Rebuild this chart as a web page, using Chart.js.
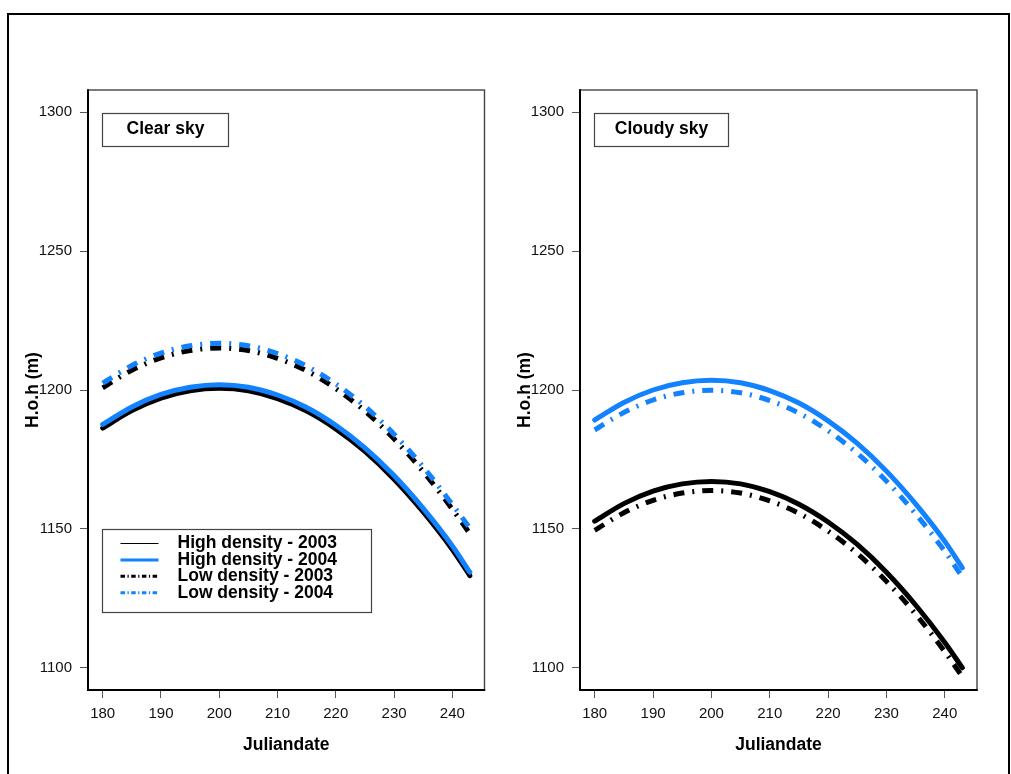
<!DOCTYPE html>
<html>
<head>
<meta charset="utf-8">
<script src="https://cdn.jsdelivr.net/npm/chart.js@4.4.1/dist/chart.umd.min.js"></script>
<style>
  body { margin: 0; background: #fff; }
  #wrap { position: relative; width: 1011px; height: 774px; overflow: hidden; }
  #wrap canvas { position: absolute; top: 0; }
  #frame { position: absolute; left: 7px; top: 13px; width: 999px; height: 800px; border: 2.5px solid #000; }
</style>
</head>
<body>
<div id="wrap">
  <canvas id="clearChart" width="505" height="774" style="left:0"></canvas>
  <canvas id="cloudyChart" width="506" height="774" style="left:505px"></canvas>
  <div id="frame"></div>
</div>
<script>
// Data (height in m vs. julian day)
const days = [180, 185, 190, 195, 200, 205, 210, 215, 220, 225, 230, 235, 240, 243];
const xTicks = [180, 190, 200, 210, 220, 230, 240];
const yTicks = [1100, 1150, 1200, 1250, 1300];
const seriesNames = ['High density - 2003', 'High density - 2004', 'Low density - 2003', 'Low density - 2004'];

const clearHigh2003 = [1186.3, 1192.6, 1197.1, 1199.7, 1200.6, 1199.7, 1196.9, 1192.4, 1186.0, 1177.9, 1167.9, 1156.1, 1142.6, 1133.2];
const clearHigh2004 = [1187.6, 1193.9, 1198.4, 1201.0, 1201.9, 1201.0, 1198.2, 1193.7, 1187.3, 1179.2, 1169.2, 1157.4, 1143.9, 1134.4];
const clearLow2003  = [1200.8, 1207.1, 1211.6, 1214.2, 1215.1, 1214.2, 1211.4, 1206.9, 1200.5, 1192.4, 1182.4, 1170.6, 1157.1, 1148.3];
const clearLow2004  = [1202.5, 1208.8, 1213.3, 1215.9, 1216.8, 1215.9, 1213.1, 1208.6, 1202.2, 1194.1, 1184.1, 1172.3, 1158.8, 1150.3];

const cloudyHigh2003 = [1152.8, 1159.1, 1163.6, 1166.2, 1167.1, 1166.2, 1163.4, 1158.9, 1152.5, 1144.4, 1134.4, 1122.6, 1109.1, 1100.0];
const cloudyHigh2004 = [1189.2, 1195.5, 1200.0, 1202.6, 1203.5, 1202.6, 1199.8, 1195.3, 1188.9, 1180.8, 1170.8, 1159.0, 1145.5, 1136.0];
const cloudyLow2003  = [1149.5, 1155.8, 1160.3, 1162.9, 1163.8, 1162.9, 1160.1, 1155.6, 1149.2, 1141.1, 1131.1, 1119.3, 1105.8, 1096.8];
const cloudyLow2004  = [1185.6, 1191.9, 1196.4, 1199.0, 1199.9, 1199.0, 1196.2, 1191.7, 1185.3, 1177.2, 1167.2, 1155.4, 1141.9, 1132.7];

// Styles
const BLUE = '#1282ff';
const colors = ['#000', BLUE, '#000', BLUE];
const plotDash = [[], [], [11, 8, 2, 8], [11, 8, 2, 8]];
const legendDash = [[], [], [4.5, 2.5, 1.2, 2.5], [4.5, 2.5, 1.2, 2.5]];
const legendWidth = [1.2, 3, 3, 3];
const FONT = "'Liberation Sans', Arial, sans-serif";

const panelDecor = {
    id: 'panelDecor',
    beforeDatasetsDraw(chart) {
        const { ctx, chartArea: a } = chart;
        ctx.save();
        ctx.strokeStyle = '#444';
        ctx.lineWidth = 1.4;
        ctx.strokeRect(a.left, a.top, a.right - a.left, a.bottom - a.top);
        ctx.strokeStyle = '#000';
        ctx.lineWidth = 2;
        ctx.beginPath();
        ctx.moveTo(a.left, a.top - 0.7);
        ctx.lineTo(a.left, a.bottom);
        ctx.lineTo(a.right + 0.7, a.bottom);
        ctx.stroke();
        ctx.restore();
    },
    afterDraw(chart, args, opts) {
        const { ctx, chartArea: a } = chart;
        ctx.save();
        ctx.fillStyle = '#000';
        ctx.font = 'bold 17.5px ' + FONT;

        // panel title box
        ctx.strokeStyle = '#444';
        ctx.lineWidth = 1.2;
        ctx.strokeRect(a.left + 14.5, a.top + 23.5, opts.titleWidth, 33);
        ctx.textAlign = 'center';
        ctx.textBaseline = 'middle';
        ctx.fillText(opts.title, a.left + 14.5 + opts.titleWidth / 2, a.top + 39);

        // axis titles
        ctx.fillText('Juliandate', (a.left + a.right) / 2, 745);
        ctx.save();
        ctx.translate(a.left - 55, (a.top + a.bottom) / 2);
        ctx.rotate(-Math.PI / 2);
        ctx.fillText('H.o.h (m)', 0, 0);
        ctx.restore();

        // legend
        if (opts.legend) {
            const lx = a.left + 14.5, ly = 529.5;
            ctx.strokeStyle = '#444';
            ctx.lineWidth = 1.2;
            ctx.strokeRect(lx, ly, 269, 83);
            ctx.textAlign = 'left';
            chart.data.datasets.forEach((ds, i) => {
                const y = 543.5 + i * 16.4;
                ctx.save();
                ctx.strokeStyle = ds.borderColor;
                ctx.lineWidth = legendWidth[i];
                ctx.setLineDash(legendDash[i]);
                ctx.lineCap = 'butt';
                ctx.beginPath();
                ctx.moveTo(lx + 18, y);
                ctx.lineTo(lx + 56, y);
                ctx.stroke();
                ctx.restore();
                ctx.fillText(ds.label, lx + 75, y);
            });
        }
        ctx.restore();
    }
};

function makePanel(id, series, title, titleWidth, showLegend, areaLeft, padRight) {
    const ctx = document.getElementById(id).getContext('2d');
    return new Chart(ctx, {
        type: 'line',
        data: {
            datasets: series.map((vals, i) => ({
                label: seriesNames[i],
                data: days.map((d, k) => ({ x: d, y: vals[k] })),
                borderColor: colors[i],
                borderWidth: 5,
                borderDash: plotDash[i],
                borderCapStyle: plotDash[i].length ? 'butt' : 'round',
                pointRadius: 0,
                cubicInterpolationMode: 'monotone',
                fill: false,
                order: 3 - i
            }))
        },
        options: {
            responsive: false,
            animation: false,
            devicePixelRatio: 1,
            layout: { padding: { left: 0, top: 90, right: padRight, bottom: 0 } },
            plugins: {
                legend: { display: false },
                tooltip: { enabled: false },
                panelDecor: { title: title, titleWidth: titleWidth, legend: showLegend }
            },
            scales: {
                x: {
                    type: 'linear',
                    min: 177.48,
                    max: 245.52,
                    afterBuildTicks: s => { s.ticks = xTicks.map(v => ({ value: v })); },
                    afterFit: s => { s.height = 84; },
                    ticks: {
                        padding: 7,
                        maxRotation: 0,
                        color: '#111',
                        font: { family: FONT, size: 15 },
                        callback: v => String(v)
                    },
                    grid: { drawOnChartArea: false, drawTicks: true, tickLength: 8, color: '#555', lineWidth: 1 },
                    border: { display: false }
                },
                y: {
                    type: 'linear',
                    min: 1092,
                    max: 1308,
                    afterBuildTicks: s => { s.ticks = yTicks.map(v => ({ value: v })); },
                    afterFit: s => { s.width = areaLeft; },
                    ticks: {
                        padding: 8,
                        color: '#111',
                        font: { family: FONT, size: 15 },
                        callback: v => String(v)
                    },
                    grid: { drawOnChartArea: false, drawTicks: true, tickLength: 8, color: '#555', lineWidth: 1 },
                    border: { display: false }
                }
            }
        },
        plugins: [panelDecor]
    });
}

makePanel('clearChart', [clearHigh2003, clearHigh2004, clearLow2003, clearLow2004], 'Clear sky', 126, true, 88, 20.5);
makePanel('cloudyChart', [cloudyHigh2003, cloudyHigh2004, cloudyLow2003, cloudyLow2004], 'Cloudy sky', 134, false, 75, 34);
</script>
</body>
</html>
